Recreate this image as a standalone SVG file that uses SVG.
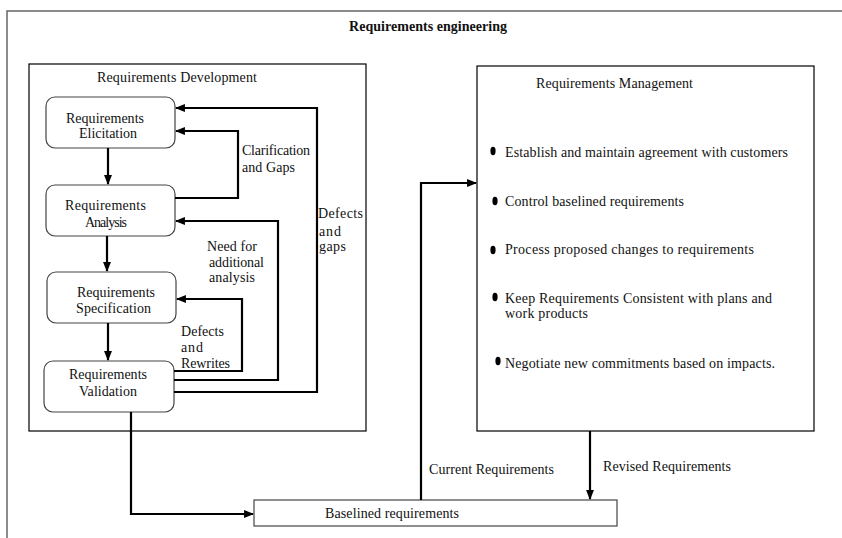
<svg xmlns="http://www.w3.org/2000/svg" width="842" height="538" viewBox="0 0 842 538">
  <style>
    text { font-family: "Liberation Serif", "Times New Roman", serif; font-size: 14px; fill: #111; }
    .title { font-weight: bold; }
    .frame { fill: none; stroke: #666; stroke-width: 1.5; }
    .panel { fill: #fff; stroke: #000; stroke-width: 1.2; }
    .step { fill: #fff; stroke: #444; stroke-width: 1.2; }
    .base { fill: #fff; stroke: #444; stroke-width: 1.2; }
    .flow { fill: none; stroke: #000; stroke-width: 2.2; marker-end: url(#arrow); }
    .dot { fill: #000; }
  </style>
  <defs>
    <marker id="arrow" viewBox="0 0 10 10" refX="9" refY="5" markerWidth="4.5" markerHeight="4.5" markerUnits="strokeWidth" orient="auto">
      <path d="M0,1 L10,5 L0,9 Z" fill="#000"/>
    </marker>
  </defs>

  <rect width="842" height="538" fill="#fff"/>

  <!-- outer frame -->
  <g id="frame">
    <rect class="frame" x="7" y="11" width="845" height="540"/>
    <text class="title" x="349" y="31" textLength="158">Requirements engineering</text>
  </g>

  <!-- development panel -->
  <g id="development">
    <rect class="panel" x="29" y="64" width="337" height="367"/>
    <text x="97" y="82" textLength="160">Requirements Development</text>
  </g>

  <g id="elicitation">
    <rect class="step" x="46" y="97" width="129" height="51" rx="9"/>
    <text x="66" y="123" textLength="78">Requirements</text>
    <text x="79" y="138" textLength="58">Elicitation</text>
  </g>

  <g id="analysis">
    <rect class="step" x="46" y="185" width="129" height="51" rx="9"/>
    <text x="65" y="210" textLength="81">Requirements</text>
    <text x="85" y="227" textLength="42">Analysis</text>
  </g>

  <g id="specification">
    <rect class="step" x="47" y="272" width="129" height="51" rx="9"/>
    <text x="77" y="297" textLength="78">Requirements</text>
    <text x="76" y="313" textLength="75">Specification</text>
  </g>

  <g id="validation">
    <rect class="step" x="44" y="361" width="130" height="51" rx="9"/>
    <text x="69" y="379" textLength="78">Requirements</text>
    <text x="79" y="396" textLength="58">Validation</text>
  </g>

  <!-- management panel -->
  <g id="management">
    <rect class="panel" x="477" y="66" width="337" height="365"/>
    <text x="536" y="88" textLength="157">Requirements Management</text>
    <ellipse class="dot" cx="493" cy="151" rx="2.6" ry="4.2"/>
    <text x="505" y="157" textLength="283">Establish and maintain agreement with customers</text>
    <ellipse class="dot" cx="495" cy="201" rx="2.6" ry="4.2"/>
    <text x="505" y="206" textLength="179">Control baselined requirements</text>
    <ellipse class="dot" cx="493" cy="250" rx="2.6" ry="4.2"/>
    <text x="505" y="254" textLength="249">Process proposed changes to requirements</text>
    <ellipse class="dot" cx="495" cy="297" rx="2.6" ry="4.2"/>
    <text x="505" y="303" textLength="267">Keep Requirements Consistent with plans and</text>
    <text x="505" y="318" textLength="83">work products</text>
    <ellipse class="dot" cx="498" cy="361" rx="2.6" ry="4.2"/>
    <text x="505" y="368" textLength="270">Negotiate new commitments based on impacts.</text>
  </g>

  <g id="baselined">
    <rect class="base" x="254" y="500" width="363" height="26"/>
    <text x="325" y="518" textLength="134">Baselined requirements</text>
  </g>

  <!-- connectors -->
  <g id="connectors">
    <path class="flow" d="M108,148 V184"/>
    <path class="flow" d="M107,236 V271"/>
    <path class="flow" d="M108,323 V360"/>
    <path class="flow" d="M175,198 H238 V131 H176"/>
    <path class="flow" d="M174,371 H242 V299 H177"/>
    <path class="flow" d="M174,380 H278 V221 H176"/>
    <path class="flow" d="M174,392 H317 V108 H176"/>
    <path class="flow" d="M131,412 V514 H253"/>
    <path class="flow" d="M421,500 V183 H476"/>
    <path class="flow" d="M590,431 V499"/>

    <text x="242" y="155" textLength="68">Clarification</text>
    <text x="242" y="172" textLength="53">and Gaps</text>
    <text x="318" y="218" textLength="45">Defects</text>
    <text x="319" y="236" textLength="22">and</text>
    <text x="319" y="251" textLength="27">gaps</text>
    <text x="207" y="251" textLength="50">Need for</text>
    <text x="209" y="267" textLength="55">additional</text>
    <text x="209" y="282" textLength="46">analysis</text>
    <text x="181" y="336" textLength="43">Defects</text>
    <text x="181" y="352" textLength="22">and</text>
    <text x="181" y="368" textLength="49">Rewrites</text>
    <text x="429" y="474" textLength="125">Current Requirements</text>
    <text x="603" y="471" textLength="128">Revised Requirements</text>
  </g>
</svg>
